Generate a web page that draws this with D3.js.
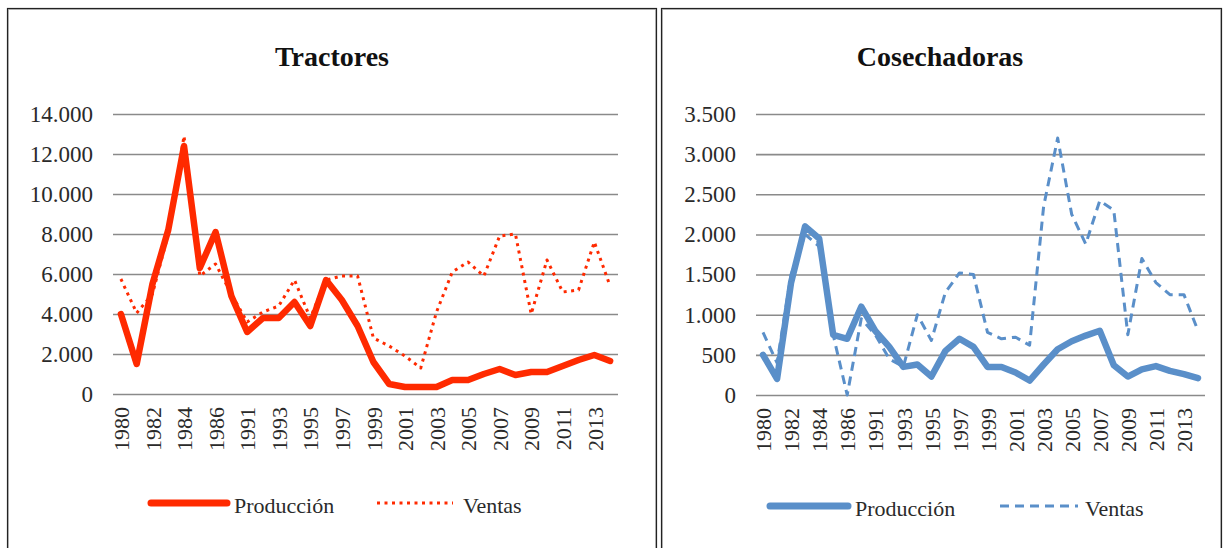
<!DOCTYPE html>
<html>
<head>
<meta charset="utf-8">
<script src="https://cdn.jsdelivr.net/npm/d3@7"></script>
<style>
  html, body { margin: 0; padding: 0; background: #fff; }
  svg { display: block; }
  svg text { font-family: "Liberation Serif", "Times New Roman", serif !important; }
</style>
</head>
<body>
<svg id="chart" width="1230" height="548"></svg>
<script>
const years = ["1980","1981","1982","1983","1984","1985","1986","1990","1991","1992","1993","1994","1995","1996","1997","1998","1999","2000","2001","2002","2003","2004","2005","2006","2007","2008","2009","2010","2011","2012","2013","2014"];

const tractoresProduccion = [4000,1500,5500,8200,12400,6300,8100,4900,3100,3800,3800,4600,3400,5700,4700,3400,1600,500,350,350,350,700,700,1000,1250,950,1100,1100,1400,1700,1950,1650];
const tractoresVentas = [5750,4050,5000,8000,12900,5900,6500,5000,3600,4100,4400,5700,3800,5700,5900,5900,2800,2400,1900,1300,4100,6100,6600,5900,7900,8000,4000,6700,5100,5200,7600,5400];

const cosechadorasProduccion = [500,200,1400,2100,1950,750,700,1100,800,600,350,380,230,550,700,600,350,350,280,180,380,570,670,740,800,370,230,320,360,300,260,210];
const cosechadorasVentas = [780,400,1500,2000,1850,750,0,950,750,450,350,1000,680,1280,1520,1500,780,700,720,620,2350,3200,2250,1880,2420,2300,750,1700,1400,1250,1250,800];

const tractoresTicks = [0,2000,4000,6000,8000,10000,12000,14000];
const cosechadorasTicks = [0,500,1000,1500,2000,2500,3000,3500];
const legendLabels = ["Producción","Ventas"];

const SERIF = '"Liberation Serif", "Times New Roman", serif';
const locale = d3.formatLocale({decimal: ",", thousands: ".", grouping: [3], currency: ["", ""]});
const fmt = locale.format(",.0f");

const svg = d3.select("#chart");

function panel(x0, x1) {
  svg.append("rect").attr("x", x0 + 1.5).attr("y", 9.5).attr("width", x1 - x0 - 3).attr("height", 560)
    .attr("fill", "none").attr("stroke", "#bdbdbd").attr("stroke-width", 1);
  svg.append("rect").attr("x", x0 + 0.5).attr("y", 8.5).attr("width", x1 - x0 - 1).attr("height", 560)
    .attr("fill", "none").attr("stroke", "#222").attr("stroke-width", 1.2);
}
panel(7, 657);
panel(661, 1222);

function drawChart(cfg) {
  const g = svg.append("g").style("font-family", SERIF);
  const x = d3.scalePoint().domain(years).range([cfg.left, cfg.right]).padding(0.5);
  const y = d3.scaleLinear().domain([0, cfg.max]).range([cfg.bottom, cfg.top]);

  g.append("text").attr("x", cfg.titleX).attr("y", 66).attr("text-anchor", "middle")
    .style("font-family", SERIF).attr("font-size", 28).attr("font-weight", "bold").attr("fill", "#111").text(cfg.title);

  const yAxis = d3.axisLeft(y).tickValues(cfg.ticks).tickSize(-(cfg.right - cfg.left)).tickPadding(20).tickFormat(fmt);
  const ya = g.append("g").attr("transform", `translate(${cfg.left},0)`).call(yAxis);
  ya.attr("font-family", SERIF);
  ya.select(".domain").remove();
  ya.selectAll(".tick line").attr("stroke", "#8a8a8a").attr("stroke-width", 1.6);
  ya.selectAll(".tick text").attr("font-size", 23).attr("fill", "#2a2a2a").style("font-family", SERIF);

  const xAxis = d3.axisBottom(x).tickValues(years.filter((d, i) => i % 2 === 0)).tickSize(0).tickPadding(0);
  const xa = g.append("g").attr("transform", `translate(0,${cfg.bottom})`).call(xAxis);
  xa.attr("font-family", SERIF);
  xa.select(".domain").remove();
  xa.selectAll(".tick text")
    .attr("font-size", 22).attr("fill", "#2a2a2a").style("font-family", SERIF)
    .attr("text-anchor", "end")
    .attr("transform", "rotate(-90)")
    .attr("x", -13).attr("y", 0).attr("dy", "0.35em");

  const line = d3.line().x((d, i) => x(years[i])).y(d => y(d));

  g.append("path").datum(cfg.ventas).attr("d", line).attr("fill", "none")
    .attr("stroke", cfg.color).attr("stroke-width", cfg.ventasWidth)
    .attr("stroke-dasharray", cfg.dash).attr("stroke-linejoin", "round");
  g.append("path").datum(cfg.prod).attr("d", line).attr("fill", "none")
    .attr("stroke", cfg.color).attr("stroke-width", 6.5).attr("stroke-linejoin", "round").attr("stroke-linecap", "round");

  const L = cfg.legend;
  g.append("line").attr("x1", L.p1).attr("x2", L.p2).attr("y1", L.y).attr("y2", L.y)
    .attr("stroke", cfg.color).attr("stroke-width", 7).attr("stroke-linecap", "round");
  g.append("text").attr("x", L.pt).attr("y", L.y + 10).attr("font-size", 22).attr("fill", "#2a2a2a")
    .style("font-family", SERIF).text(legendLabels[0]);
  g.append("line").attr("x1", L.v1).attr("x2", L.v2).attr("y1", L.y).attr("y2", L.y)
    .attr("stroke", cfg.color).attr("stroke-width", cfg.ventasWidth).attr("stroke-dasharray", cfg.dash);
  g.append("text").attr("x", L.vt).attr("y", L.y + 10).attr("font-size", 22).attr("fill", "#2a2a2a")
    .style("font-family", SERIF).text(legendLabels[1]);
}

drawChart({
  title: "Tractores", titleX: 332,
  left: 113, right: 618, top: 114, bottom: 394, max: 14000,
  ticks: tractoresTicks, prod: tractoresProduccion, ventas: tractoresVentas,
  color: "#ff2a00", dash: "3,4.5", ventasWidth: 3,
  legend: {y: 503, p1: 151, p2: 227, pt: 234, v1: 377, v2: 453, vt: 463}
});

drawChart({
  title: "Cosechadoras", titleX: 940,
  left: 756, right: 1205, top: 114, bottom: 395, max: 3500,
  ticks: cosechadorasTicks, prod: cosechadorasProduccion, ventas: cosechadorasVentas,
  color: "#5a8fc9", dash: "9,6", ventasWidth: 3,
  legend: {y: 506, p1: 770, p2: 848, pt: 855, v1: 1000, v2: 1078, vt: 1085}
});
</script>
</body>
</html>
